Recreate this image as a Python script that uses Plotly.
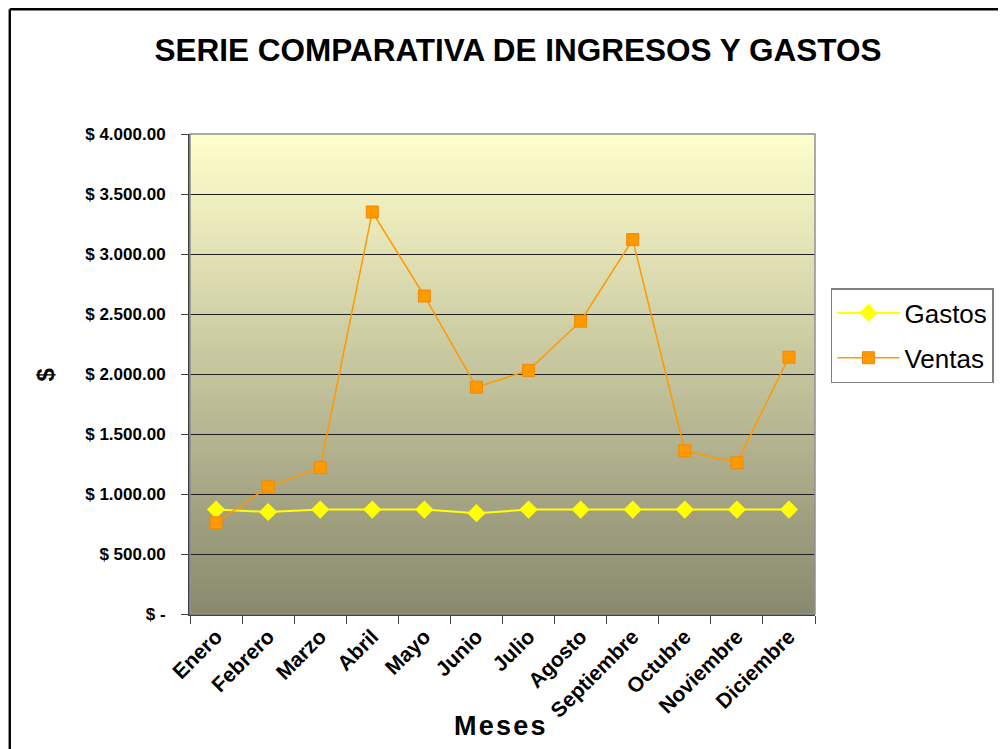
import plotly.graph_objects as go

meses = ["Enero", "Febrero", "Marzo", "Abril", "Mayo", "Junio", "Julio",
         "Agosto", "Septiembre", "Octubre", "Noviembre", "Diciembre"]
gastos = [870, 850, 870, 870, 870, 840, 870, 870, 870, 870, 870, 870]
ventas = [760, 1060, 1220, 3350, 2650, 1890, 2030, 2440, 3120, 1360, 1260, 2140]
y_tickvals = [0, 500, 1000, 1500, 2000, 2500, 3000, 3500, 4000]
y_ticktext = ["$ -", "$ 500.00", "$ 1.000.00", "$ 1.500.00", "$ 2.000.00",
              "$ 2.500.00", "$ 3.000.00", "$ 3.500.00", "$ 4.000.00"]

OFF = 8  # page body margin
W, H = 1006 - OFF, 749 - OFF
L = 190 - OFF
T = 134 - OFF
R = W - (817 - OFF)
B = H - (614 - OFF)
pw, ph = W - L - R, H - T - B

def px_x(x):
    return (x - OFF - L) / pw

def px_y(y):
    return (H - B - (y - OFF)) / ph

fig = go.Figure()
fig.add_trace(go.Scatter(
    x=meses, y=gastos, name="Gastos", mode="lines+markers",
    legendgroup="g1",
    line=dict(color="#FFFF00", width=2),
    marker=dict(symbol="diamond", size=14, color="#FFFF00"),
))
fig.add_trace(go.Scatter(
    x=meses, y=ventas, name="Ventas", mode="lines+markers",
    legendgroup="g2",
    line=dict(color="#FF9900", width=1.5),
    marker=dict(symbol="square", size=12, color="#FF9900",
                line=dict(color="#F08A00", width=1)),
))

# gradient background strips
shapes = []
n = 80
top = (255, 255, 204)
bot = (137, 137, 110)
for i in range(n):
    f = (i + 0.5) / n
    c = tuple(int(round(top[k] + (bot[k] - top[k]) * f)) for k in range(3))
    shapes.append(dict(type="rect", xref="x domain", yref="y domain",
                       x0=0, x1=1, y0=1 - (i + 1) / n, y1=1 - i / n + 0.002,
                       fillcolor="rgb(%d,%d,%d)" % c, line=dict(width=0),
                       layer="below"))
# plot frame (top/right gray)
shapes.append(dict(type="rect", xref="x domain", yref="y domain",
                   x0=0, x1=1, y0=0, y1=1, line=dict(color="#909090", width=1.5),
                   layer="above"))
# outer chart frame (left & top visible)
fx = px_x(OFF + 1.2)
fy = px_y(OFF + 1.2)
shapes.append(dict(type="line", xref="paper", yref="paper",
                   x0=fx, x1=fx, y0=px_y(760), y1=fy,
                   line=dict(color="black", width=2.4)))
shapes.append(dict(type="line", xref="paper", yref="paper",
                   x0=fx, x1=px_x(1020), y0=fy, y1=fy,
                   line=dict(color="black", width=2.4)))

fig.update_layout(
    width=W, height=H,
    margin=dict(l=L, r=R, t=T, b=B),
    paper_bgcolor="white",
    plot_bgcolor="rgba(0,0,0,0)",
    font=dict(family="Liberation Sans, Arial, sans-serif", color="black"),
    title=dict(text="<b>SERIE COMPARATIVA DE INGRESOS Y GASTOS</b>",
               x=px_x(519), xanchor="center", xref="paper",
               y=1 - (50 - OFF) / H, yanchor="middle",
               font=dict(size=31.5, color="black")),
    showlegend=True,
    legend=dict(x=px_x(833), y=px_y(288), xanchor="left", yanchor="top",
                bordercolor="#808080", borderwidth=1.5, bgcolor="white",
                font=dict(size=26), itemwidth=62, traceorder="grouped",
                tracegroupgap=8),
    shapes=shapes,
    annotations=[
        dict(text="<b>M\u200ae\u200as\u200ae\u200as</b>", xref="paper", yref="paper",
             x=px_x(501), y=px_y(726), xanchor="center", yanchor="middle",
             showarrow=False, font=dict(size=27)),
        dict(text="<b>$</b>", xref="paper", yref="paper",
             x=px_x(45), y=px_y(374), xanchor="center", yanchor="middle",
             showarrow=False, textangle=-90, font=dict(size=24)),
    ],
)
fig.update_xaxes(
    type="category", range=[-0.5, 11.5],
    showgrid=False, zeroline=False,
    showline=True, linecolor="#404040", linewidth=2,
    ticks="outside", tickson="boundaries", ticklen=8, tickcolor="#404040",
    ticklabelstandoff=0,
    tickangle=-45, tickfont=dict(size=21, color="black", weight="bold"),
)
fig.update_yaxes(
    range=[0, 4000], tickvals=y_tickvals, ticktext=y_ticktext,
    showgrid=True, gridcolor="#202020", gridwidth=1, zeroline=False,
    showline=True, linecolor="#404040", linewidth=2,
    ticks="outside", ticklen=7, tickcolor="#404040",
    ticklabelstandoff=12,
    tickfont=dict(size=17, color="black", weight="bold"),
)

fig.write_html("out.html")
